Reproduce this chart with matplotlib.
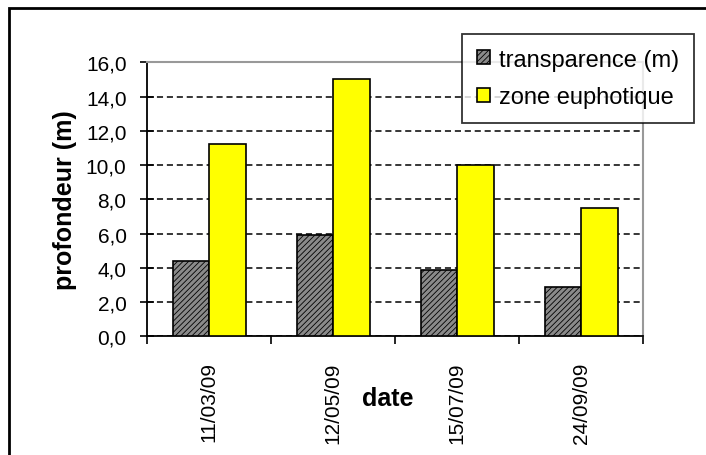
import numpy as np
import matplotlib
matplotlib.use('Agg')
import matplotlib.pyplot as plt
from matplotlib.patches import Rectangle

dates = ['11/03/09', '12/05/09', '15/07/09', '24/09/09']
transparence = [4.4, 5.9, 3.9, 2.9]
euphotique = [11.2, 15.0, 10.0, 7.5]
yticks = [0, 2, 4, 6, 8, 10, 12, 14, 16]

plt.rcParams['font.family'] = ['Liberation Sans', 'DejaVu Sans']
plt.rcParams['hatch.color'] = '#4a4a4a'
plt.rcParams['hatch.linewidth'] = 0.6

fig = plt.figure(figsize=(7.06, 4.56), dpi=100)
ax = fig.add_axes([0.2087, 0.2603, 0.7023, 0.6009])

x = np.arange(len(dates)) + 0.5
w = 0.293
ax.bar(x - w / 2, transparence, w, color='#8a8a8a', edgecolor='black',
       linewidth=1.2, hatch='//////', label='transparence (m)', zorder=3)
ax.bar(x + w / 2, euphotique, w, color='#ffff00', edgecolor='black',
       linewidth=1.2, label='zone euphotique', zorder=3)

ax.set_xlim(0, len(dates))
ax.set_ylim(0, 16)
ax.set_yticks(yticks)
ax.set_yticklabels([('%.1f' % v).replace('.', ',') for v in yticks], fontsize=15)
ax.yaxis.grid(True, color='black', linestyle=(0, (4, 2.5)), linewidth=1.1, zorder=1)
ax.set_axisbelow(True)

ax.set_xticks(np.arange(len(dates) + 1))
ax.set_xticklabels([])
ax.set_xticks(x, minor=True)
ax.set_xticklabels(dates, minor=True, rotation=90, fontsize=15, va='top')
ax.tick_params(axis='x', which='minor', length=0, pad=18)
ax.tick_params(axis='x', which='major', direction='out', length=6, width=1.2)
ax.tick_params(axis='y', direction='inout', length=10, width=1.2, pad=10)

for s in ['left', 'bottom']:
    ax.spines[s].set_color('black')
    ax.spines[s].set_linewidth(1.3)
for s in ['top', 'right']:
    ax.spines[s].set_color('#999999')
    ax.spines[s].set_linewidth(1.5)

ax.set_ylabel('profondeur (m)', fontsize=18, fontweight='bold', labelpad=6)
ax.set_xlabel('date', fontsize=18, fontweight='bold')
ax.xaxis.set_label_coords(0.485, -0.18)

leg = fig.legend(loc='upper left', bbox_to_anchor=(462 / 706, 1 - 35 / 456), fontsize=17,
                 frameon=True, fancybox=False, edgecolor='black',
                 handlelength=0.55, handleheight=0.55, handletextpad=0.4,
                 labelspacing=0.65, borderpad=0.62, borderaxespad=0)
leg.get_frame().set_linewidth(1.3)

fig.patches.append(Rectangle((9 / 706, -0.1), 1.2, 1 - 9 / 456 + 0.1,
                             transform=fig.transFigure, fill=False,
                             edgecolor='black', linewidth=2))

fig.savefig('out.png', dpi=100)
